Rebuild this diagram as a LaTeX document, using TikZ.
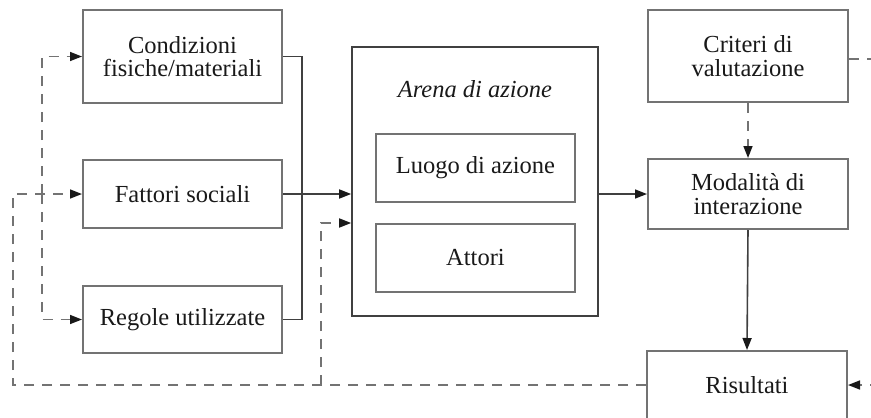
\documentclass[tikz,border=0pt]{standalone}
\usepackage{fontspec}
\setmainfont{Liberation Serif}
\usetikzlibrary{arrows.meta,calc}
\tikzset{
  box/.style={draw=black!55, line width=2pt, inner sep=0pt, align=center,
    text=black!90, font=\fontsize{24.5}{23.5}\selectfont},
  arenabox/.style={draw=black!75, line width=1.6pt, inner sep=0pt},
  conn/.style={draw=black!75, line width=1.6pt},
  fb/.style={draw=black!55, line width=1.6pt, dash pattern=on 10pt off 8pt},
  tip/.style={-{Triangle[length=12pt,width=9pt,color=black!90]}}
}
\begin{document}
\begin{tikzpicture}[x=1pt,y=-1pt]
\useasboundingbox (0,0) rectangle (871,418);
\clip (0,0) rectangle (871,418);
% left column
\node[box, minimum width=199pt, minimum height=93pt] (cond) at (182.5,56.5) {Condizioni\\fisiche/materiali};
\node[box, minimum width=199pt, minimum height=68pt] (fatt) at (182.5,194) {Fattori sociali};
\node[box, minimum width=199pt, minimum height=67pt] (reg) at (182.5,319.5) {Regole utilizzate};
% arena
\node[arenabox, minimum width=246pt, minimum height=269pt] (arena) at (475,181.5) {};
\node[text=black!90, font=\fontsize{24.5}{23.5}\selectfont\itshape] (arenalbl) at (475,89) {Arena di azione};
\node[box, minimum width=199pt, minimum height=68pt] (luogo) at (475.5,168) {Luogo di azione};
\node[box, minimum width=199pt, minimum height=68pt] (attori) at (475.5,258) {Attori};
% right column
\node[box, minimum width=200pt, minimum height=92pt] (crit) at (748,56) {Criteri di\\valutazione};
\node[box, minimum width=200pt, minimum height=70pt] (mod) at (748,194) {Modalità di\\interazione};
\node[box, minimum width=200pt, minimum height=68pt] (ris) at (747,385) {Risultati};
% coordinates
\coordinate (brR) at (302,56.5);
\coordinate (fbL) at (13,385);
\coordinate (fbM) at (321,385);
\coordinate (brL) at (42,194);
\coordinate (outR1) at (880,59);
\coordinate (outR2) at (880,385);
% solid connectors
\draw[conn] (cond.east) -- (brR) |- (reg.east);
\draw[conn, tip] (fatt.east) -- (fatt.east -| arena.west);
\draw[conn, tip] (arena.east |- mod.west) -- (mod.west);
\draw[conn, tip] (mod.south) -- (ris.north);
% dashed feedback
\draw[fb, tip] (ris.west) -- (fbL) |- (fatt.west);
\draw[fb, tip] (fbM) |- (arena.west |- attori.north);
\draw[fb, tip] (brL) |- (cond.west);
\draw[fb, tip] (brL) |- (reg.west);
\draw[fb, tip] (crit.south) -- (mod.north);
\draw[fb] (crit.east |- outR1) -- (outR1);
\draw[fb, tip] (outR2) -- (ris.east);
\end{tikzpicture}
\end{document}
